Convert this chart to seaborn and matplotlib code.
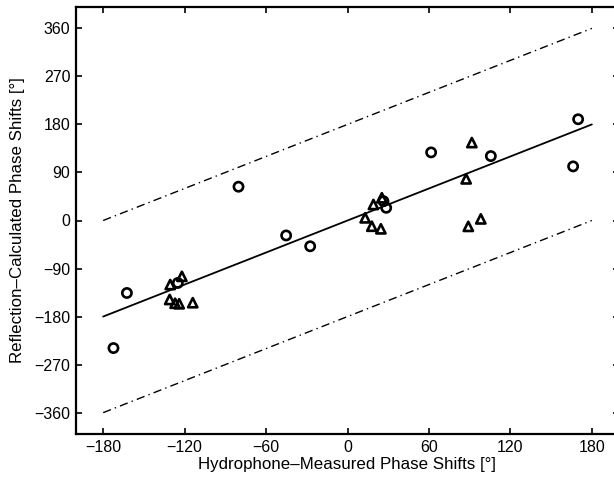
import pandas as pd
import numpy as np
import matplotlib
matplotlib.use('Agg')
import matplotlib.pyplot as plt
import seaborn as sns

# Phase shift pairs (hydrophone, reflection), degrees
circle_x = [-162.5, -172.4, -80.3, -45.2, -27.5, -125, 61.6, 26.5, 28.5, 105.6, 166.2, 169.9]
circle_y = [-135.8, -239, 63.3, -28, -48.3, -117, 127.6, 36.2, 23.8, 120.7, 101.4, 189.7]
triangle_x = [-130.6, -122, -131, -127, -124, -114, 25.3, 19.1, 13, 17.9, 24.6, 91.6, 87.4, 89, 98.2]
triangle_y = [-120, -104.6, -148, -155, -156, -154, 42.6, 30, 5, -10.7, -15.6, 146, 78, -11, 3]

# reference line y = x and the +/-180 degree bounds
line_x = [-180, 180]
line_y = [-180, 180]
upper_y = [0, 360]
lower_y = [-360, 0]

ticks = [-360, -270, -180, -90, 0, 90, 180, 270, 360]
xticks = [-180, -120, -60, 0, 60, 120, 180]

df = pd.DataFrame({
    'x': circle_x + triangle_x,
    'y': circle_y + triangle_y,
    'kind': ['circle'] * len(circle_x) + ['triangle'] * len(triangle_x),
})

sns.set_style('ticks')
plt.rcParams['font.family'] = ['Liberation Sans', 'DejaVu Sans']
plt.rcParams['axes.unicode_minus'] = True

fig = plt.figure(figsize=(6.14, 4.78), dpi=100)
ax = fig.add_axes([76 / 614, 44 / 478, 543 / 614, 427 / 478])

ax.plot(line_x, line_y, color='black', linewidth=1.3)
ax.plot(line_x, upper_y, color='black', linewidth=1.0, linestyle=(0, (6, 3, 1, 3)))
ax.plot(line_x, lower_y, color='black', linewidth=1.0, linestyle=(0, (6, 3, 1, 3)))

sns.scatterplot(data=df, x='x', y='y', style='kind',
                markers={'circle': 'o', 'triangle': '^'},
                s=44, facecolor='none', edgecolor='black', linewidth=1.9,
                legend=False, ax=ax, zorder=3)

ax.set_xlim(-200, 200)
ax.set_ylim(-400, 400)
ax.set_xticks(xticks)
ax.set_yticks(ticks)
ax.tick_params(direction='in', length=4, width=1.2, top=True, right=True,
               labelsize=11.5, colors='black', pad=4)
ax.tick_params(axis='y', which='both', right=True)
for s in ax.spines.values():
    s.set_linewidth(1.6)
    s.set_color('black')
ax.spines['right'].set_visible(False)

ax.set_xlabel('Hydrophone–Measured Phase Shifts [°]', fontsize=12.2, labelpad=2, color='black')
ax.set_ylabel('Reflection–Calculated Phase Shifts [°]', fontsize=12.2, labelpad=7, color='black')

plt.savefig('out.png', dpi=100)
plt.close()
